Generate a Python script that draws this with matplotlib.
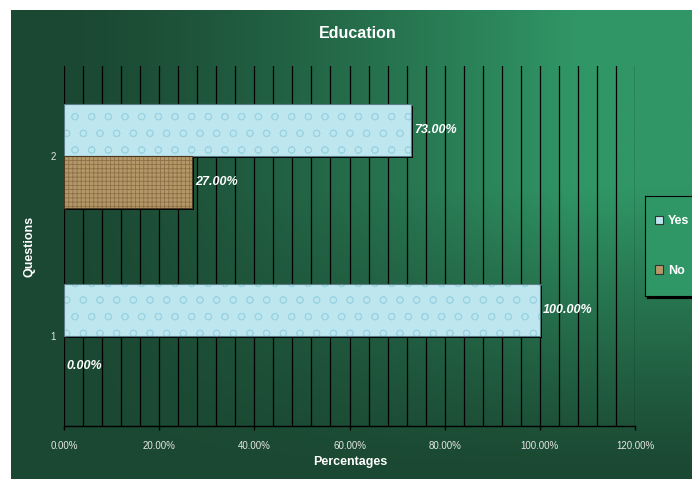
import numpy as np
import matplotlib
matplotlib.use("Agg")
import matplotlib.pyplot as plt
import matplotlib.transforms as mtransforms
from matplotlib.patches import Patch
from matplotlib.ticker import MultipleLocator, FuncFormatter

plt.rcParams['font.family'] = ['Liberation Sans', 'DejaVu Sans']
plt.rcParams['hatch.linewidth'] = 0.6

# --- data ---
questions = ['1', '2']
yes_pct = [100.0, 73.0]
no_pct = [0.0, 27.0]
series_names = ['Yes', 'No']

# --- colours ---
DARK = np.array([27, 72, 50]) / 255
LIGHT = np.array([48, 150, 102]) / 255
YES_COLOR = '#BDE6EE'
YES_HATCH = '#9AD3E2'
NO_COLOR = '#B59868'
NO_HATCH = '#8C7048'
TEXT_COLOR = 'white'

fig = plt.figure(figsize=(6.92, 4.79), dpi=100)
fig.patch.set_facecolor('white')

# --- gradient background (green area starts at x=11, y=10) ---
bg = fig.add_axes([11 / 692, 0, 1 - 11 / 692, 1 - 10 / 479])
bg.set_axis_off()
gx = np.linspace(0, 1, 300)
gy = np.linspace(0, 1, 200)
X, Y = np.meshgrid(gx, gy)
tx = np.clip((X - 0.08) / 0.75, 0, 1) ** 1.3
ty = np.clip((Y - 0.02) / 0.6, 0, 1) ** 1.1
t = tx * ty
img = DARK[None, None, :] + (LIGHT - DARK)[None, None, :] * t[:, :, None]
bg.imshow(img, origin='lower', aspect='auto', extent=[0, 1, 0, 1])

# --- main axes ---
ax = fig.add_axes([64 / 692, 1 - 426 / 479, (635 - 64) / 692, (426 - 66) / 479])
ax.patch.set_alpha(0)

pos = np.arange(len(questions))
h = 0.289
shift = ax.transData + mtransforms.ScaledTranslation(2 / 100, -2 / 100, fig.dpi_scale_trans)


def draw_series(offset, vals, color, hatch, hcolor, edge, label):
    vis = [v > 0 for v in vals]
    # black drop shadow behind each bar
    shad = ax.barh(pos + offset, vals, height=h, color='black', linewidth=0,
                   transform=shift, zorder=2)
    bars = ax.barh(pos + offset, vals, height=h, color=color, edgecolor=edge,
                   linewidth=0.8, hatch=hatch, label=label, zorder=3)
    for s, b, v in zip(shad, bars, vis):
        b._hatch_color = matplotlib.colors.to_rgba(hcolor)
        s.set_visible(v)
        b.set_visible(v)
    return bars


yes_bars = draw_series(h / 2, yes_pct, YES_COLOR, 'o', YES_HATCH, '#5A7C84', series_names[0])
no_bars = draw_series(-h / 2, no_pct, NO_COLOR, '++++', NO_HATCH, '#4A3A22', series_names[1])

for off, vals in ((h / 2, yes_pct), (-h / 2, no_pct)):
    for p, v in zip(pos + off, vals):
        ax.annotate(f'{v:.2f}%', (v, p),
                    xytext=(2, 0 if v > 0 else -3), textcoords='offset points',
                    ha='left', va='center', color=TEXT_COLOR, fontsize=9,
                    fontweight='bold', fontstyle='italic', zorder=4)

ax.set_xlim(0, 120)
ax.set_ylim(-0.5, 1.5)
ax.xaxis.set_major_locator(MultipleLocator(20))
ax.xaxis.set_minor_locator(MultipleLocator(4))
ax.xaxis.set_major_formatter(FuncFormatter(lambda v, p: f'{v:.2f}%'))
ax.set_yticks(pos)
ax.set_yticklabels(questions)

ax.grid(True, which='both', axis='x', color='black', linewidth=0.9, zorder=1)
ax.set_axisbelow(True)
for s in ('top', 'right', 'left'):
    ax.spines[s].set_visible(False)
ax.spines['bottom'].set_color('black')
ax.spines['bottom'].set_linewidth(1.0)

ax.tick_params(axis='x', which='major', colors='black', length=3, width=1,
               labelcolor='#E6E6E6', labelsize=7, pad=8)
ax.tick_params(axis='x', which='minor', length=0)
ax.tick_params(axis='y', length=0, labelcolor='#E6E6E6', labelsize=7, pad=6)

fig.text(358 / 692, 1 - 34 / 479, 'Education', ha='center', va='center',
         color=TEXT_COLOR, fontsize=11.5, fontweight='bold')
fig.text(350 / 692, 1 - 462 / 479, 'Percentages', ha='center', va='center',
         color=TEXT_COLOR, fontsize=9, fontweight='bold')
fig.text(30 / 692, 1 - 246 / 479, 'Questions', ha='center', va='center', rotation=90,
         color=TEXT_COLOR, fontsize=9, fontweight='bold')

# --- legend (box runs off the right edge, like the original) ---
sax = fig.add_axes([647 / 692, 1 - 298 / 479, 60 / 692, 100 / 479])
sax.set_facecolor('black')
sax.set_xticks([])
sax.set_yticks([])

lax = fig.add_axes([645 / 692, 1 - 296 / 479, 60 / 692, 100 / 479])
lax.set_xlim(0, 1)
lax.set_ylim(0, 1)
lax.set_xticks([])
lax.set_yticks([])
lax.set_facecolor('#2F9665')
for s in lax.spines.values():
    s.set_color('black')
    s.set_linewidth(0.8)
handles = [Patch(facecolor=YES_COLOR, edgecolor='#333333', linewidth=0.8),
           Patch(facecolor=NO_COLOR, edgecolor='#333333', linewidth=0.8)]
leg = lax.legend(handles=handles, labels=series_names,
                 loc='center left', bbox_to_anchor=(0.17, 0.5), frameon=False,
                 fontsize=9, handlelength=0.65, handleheight=0.65, handletextpad=0.35,
                 labelspacing=3.0, borderpad=0, borderaxespad=0)
for txt in leg.get_texts():
    txt.set_color(TEXT_COLOR)
    txt.set_fontweight('bold')

fig.savefig('out.png', dpi=100, facecolor=fig.get_facecolor())
